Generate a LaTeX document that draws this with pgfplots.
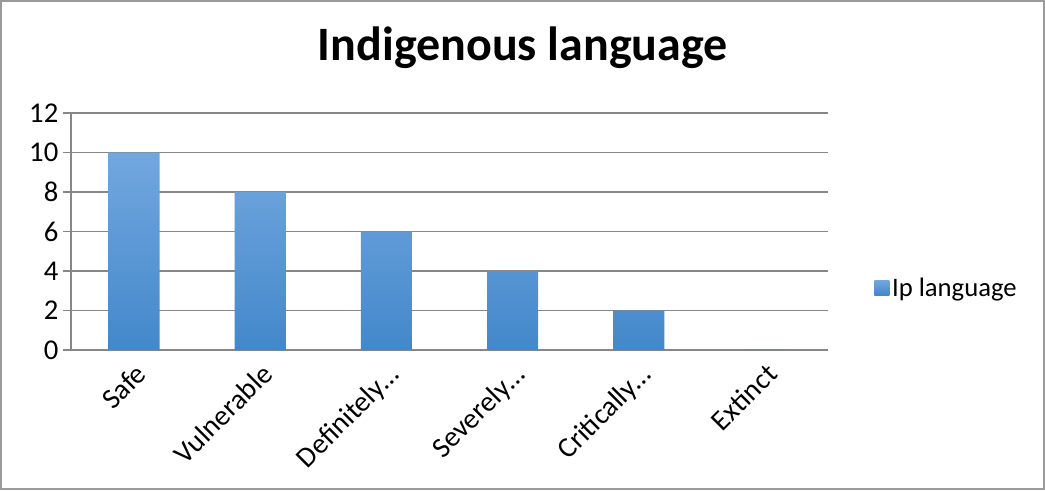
\documentclass[border=0pt]{standalone}
\usepackage{pgfplots}
\pgfplotsset{compat=1.18}
\usepackage{fontspec}
\setmainfont{Carlito}
\definecolor{gridgray}{HTML}{878787}
\definecolor{framegray}{HTML}{9A9A9A}
\definecolor{bartop}{HTML}{72A7DF}
\definecolor{barmid}{HTML}{5A9CDD}
\definecolor{barbot}{HTML}{4388CA}

\begin{document}
\begin{tikzpicture}
\useasboundingbox (0,0) rectangle (783.75pt,367.5pt);
\draw[framegray, line width=1pt] (0.75pt,0.75pt) rectangle (783pt,366.75pt);
\node[font=\fontsize{36}{42}\selectfont\bfseries, anchor=base] at (392pt,322pt) {Indigenous language};
\begin{axis}[
    at={(53.25pt,105pt)}, anchor=south west,
    scale only axis, width=567.75pt, height=177.75pt,
    xmin=-0.5, xmax=5.5, ymin=0, ymax=12,
    ytick={0,2,...,12},
    xtick={0,...,5},
    xticklabels={Safe,Vulnerable,Definitely\dots,Severely\dots,Critically\dots,Extinct},
    axis x line*=bottom, axis y line*=left,
    axis line style={draw=gridgray, line width=0.9pt, -},
    ymajorgrids, grid style={gridgray, line width=0.9pt},
    tick align=outside, major tick length=6pt,
    tick style={gridgray, line width=0.9pt},
    x tick style={draw=none},
    extra x ticks={-0.5,0.5,1.5,2.5,3.5,4.5,5.5},
    extra x tick labels={},
    extra x tick style={grid=none, tick style={draw=gridgray, line width=0.9pt}},
    ticklabel style={font=\fontsize{21.5}{24}\selectfont},
    /pgf/number format/assume math mode=true,
    xticklabel style={rotate=45, anchor=north east, inner sep=2pt},
    yticklabel style={xshift=0pt},
    legend style={at={(1.061,0.26)}, anchor=west, draw=none, fill=none,
        font=\fontsize{20}{24}\selectfont, inner sep=0pt},
    legend cell align=left,
    legend image code/.code={\shade[top color=bartop, bottom color=barbot] (-3pt,-5pt) rectangle (8.25pt,6.25pt);},
]
\addplot[ybar, bar width=0.405, draw=none, top color=bartop, middle color=barmid, bottom color=barbot]
    coordinates {(0,10) (1,8) (2,6) (3,4) (4,2) (5,0)};
\addlegendentry{Ip language}
\end{axis}
\end{tikzpicture}
\end{document}
